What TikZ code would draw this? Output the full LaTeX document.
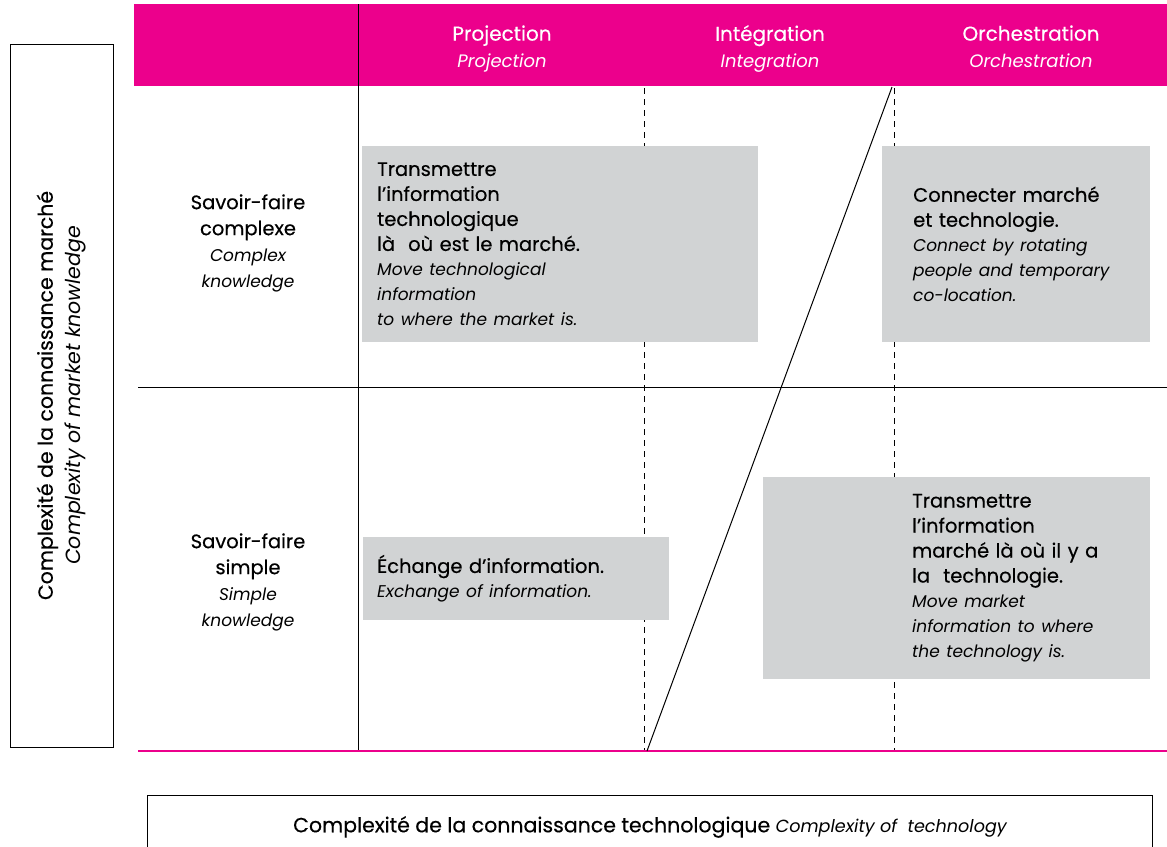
\documentclass[tikz,border=0pt]{standalone}
\usepackage{fontspec}
\setmainfont{Poppins}
\newfontface\medfont{Poppins}[FakeBold=0.4]
\usepackage{xcolor}
\usepackage{tikz}
\usetikzlibrary{positioning}
\definecolor{headpink}{RGB}{236, 0, 140}
\definecolor{cellgray}{RGB}{209, 211, 212}
\newcommand{\fr}{\medfont\fontsize{19.5}{25}\selectfont}
\newcommand{\en}{\rmfamily\fontsize{17}{25}\selectfont\itshape}

\begin{document}
\begin{tikzpicture}[x=1pt, y=-1pt,
			cell/.style={rectangle, fill=cellgray, inner ysep=0pt, align=left, font=\fr},
			head/.style={text=white, align=center, inner sep=0pt, text depth=5pt, font=\medfont\fontsize{20}{27}\selectfont},
			rowlabel/.style={align=center, inner sep=0pt, font=\medfont\fontsize{19.5}{26}\selectfont},
			axis/.style={draw, line width=1pt, inner sep=0pt, align=center},
			grid/.style={line width=0.9pt},
			sep/.style={line width=0.9pt, dash pattern=on 6pt off 5pt}]
			
			\useasboundingbox (0,0) rectangle (1167,846);
			\clip (0,0) rectangle (1167,846);
			
			% header band
			\node[fill=headpink, minimum width=1033pt, minimum height=82pt, anchor=north west, inner sep=0pt] (header) at (134,4) {};
			\node[head] (proj) at (502,49) {Projection\\{\rmfamily\fontsize{18}{27}\selectfont\itshape Projection}};
			\node[head] (integ) at (770,49) {Intégration\\{\rmfamily\fontsize{18}{27}\selectfont\itshape Integration}};
			\node[head] (orch) at (1031,49) {Orchestration\\{\rmfamily\fontsize{18}{27}\selectfont\itshape Orchestration}};
			
			% grid
			\coordinate (vtop) at (358,4);
			\coordinate (vbot) at (358,751);
			\draw[grid] (vtop) -- (vbot);
			\draw[grid] (138,387) -- (1167,387);
			\draw[headpink, line width=1.5pt] (138,751) -- (1167,751);
			\draw[sep] (644,88) -- (644,750);
			\draw[sep] (894,88) -- (894,750);
			\coordinate (dlow) at (647,751);
			\coordinate (dhigh) at (892,87);
			\draw[line width=1pt] (dlow) -- (dhigh);
			
			% row labels
			\node[rowlabel] (cplx) at (248,243) {Savoir-faire\\ complexe\\ {\rmfamily\fontsize{17}{26}\selectfont\itshape Complex}\\ {\rmfamily\fontsize{17}{26}\selectfont\itshape knowledge}};
			\node[rowlabel] (smpl) at (248,582) {Savoir-faire\\ simple\\ {\rmfamily\fontsize{17}{26}\selectfont\itshape Simple}\\ {\rmfamily\fontsize{17}{26}\selectfont\itshape knowledge}};
			
			% cells
			\node[cell, anchor=north west, text width=366pt, inner xsep=15pt, minimum height=196pt] (proxc) at (362,146)
				{Transmettre\\ l’information\\ technologique\\ là~ où est le marché.\\
				 \en Move technological\\ information\\ to where the market is.};
			\node[cell, anchor=north west, text width=206pt, inner xsep=31pt, minimum height=196pt] (orchc) at (882,146)
				{Connecter marché\\ et technologie.\\
				 \en Connect by rotating\\ people and temporary\\ co-location.};
			\node[cell, anchor=north west, text width=278pt, inner xsep=14pt, minimum height=83pt] (proxs) at (363,537)
				{Échange d’information.\\ \en Exchange of information.};
			\node[cell, anchor=north west, minimum width=387pt, minimum height=202pt] (orchs) at (763,477) {};
			\node[cell, fill=none, anchor=west, text width=230pt, inner sep=0pt] (orchst) at (912,578)
				{Transmettre\\ l’information\\ marché là où il y a\\ la~ technologie.\\
				 \en Move market\\ information to where\\ the technology is.};
			
			% axes
			\node[axis, rotate=90, minimum width=703pt, minimum height=103pt, font=\medfont\fontsize{20.5}{28}\selectfont] (mkt) at (61.5,395.5)
				{Complexité de la connaissance marché\\{\rmfamily\fontsize{20.5}{28}\selectfont\itshape Complexity of market knowledge}};
			\node[axis, minimum width=1005pt, minimum height=64pt, font=\medfont\fontsize{20.5}{22}\selectfont] (tech) at (650,827)
				{Complexité de la connaissance technologique {\rmfamily\fontsize{17.6}{22}\selectfont\itshape Complexity of~ technology}};
		\end{tikzpicture}
\end{document}
